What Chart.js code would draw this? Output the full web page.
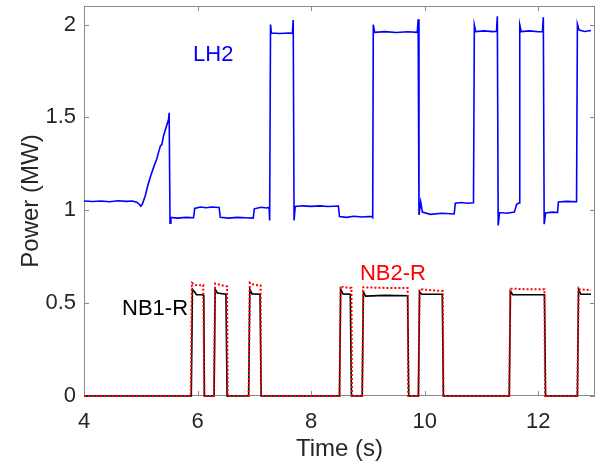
<!DOCTYPE html>
<html>
<head>
<meta charset="utf-8">
<script src="https://cdn.jsdelivr.net/npm/chart.js@4/dist/chart.umd.min.js"></script>
<style>
  html, body { margin: 0; padding: 0; background: #fff; }
</style>
</head>
<body>
<canvas id="powerChart" width="599" height="466"></canvas>
<script>
// LH2 power trace (MW)
const lh2Time = [4.00, 4.15, 4.30, 4.45, 4.60, 4.75, 4.85, 4.93, 4.98, 5.00, 5.03, 5.08, 5.13, 5.18, 5.23, 5.28, 5.32, 5.35, 5.37, 5.40, 5.45, 5.49, 5.50,
  5.515, 5.53, 5.65, 5.80, 5.93, 5.95, 6.05, 6.15, 6.25, 6.38, 6.40, 6.55, 6.70, 6.85, 6.98, 7.00, 7.12, 7.22, 7.26, 7.27,
  7.285, 7.30, 7.45, 7.60, 7.67, 7.685, 7.70, 7.72, 7.85, 8.00, 8.15, 8.30, 8.48, 8.50, 8.62, 8.75, 8.90, 9.07, 9.085,
  9.095, 9.12, 9.30, 9.50, 9.70, 9.87, 9.885, 9.90, 9.93, 9.96, 10.10, 10.30, 10.52, 10.54, 10.65, 10.75, 10.86,
  10.875, 10.90, 11.05, 11.20, 11.265, 11.28, 11.295, 11.32, 11.45, 11.58, 11.62, 11.665,
  11.675, 11.70, 11.85, 12.00, 12.075, 12.09, 12.105, 12.13, 12.25, 12.34, 12.355, 12.50, 12.675,
  12.69, 12.72, 12.82, 12.93];
const lh2Power = [1.050, 1.047, 1.050, 1.046, 1.051, 1.048, 1.050, 1.044, 1.030, 1.022, 1.035, 1.080, 1.140, 1.190, 1.235, 1.275, 1.320, 1.350, 1.352, 1.400, 1.450, 1.490, 1.525,
  0.930, 0.962, 0.958, 0.962, 0.960, 1.010, 1.018, 1.014, 1.018, 1.015, 0.962, 0.958, 0.962, 0.960, 0.958, 1.008, 1.016, 1.012, 1.016, 0.945,
  2.000, 1.955, 1.952, 1.955, 1.953, 2.025, 0.945, 1.020, 1.024, 1.021, 1.024, 1.020, 1.023, 0.966, 0.962, 0.968, 0.964, 0.967, 0.962,
  2.000, 1.958, 1.962, 1.957, 1.961, 1.958, 2.028, 0.975, 1.045, 0.990, 0.978, 0.984, 0.980, 1.038, 1.042, 1.038, 1.040,
  1.998, 1.962, 1.966, 1.962, 1.964, 2.045, 0.918, 0.988, 0.984, 0.990, 1.032, 1.040,
  1.998, 1.962, 1.966, 1.961, 1.963, 2.040, 0.925, 0.985, 0.990, 0.988, 1.045, 1.048, 1.046,
  2.003, 1.970, 1.963, 1.968];

// NB1-R power trace (MW)
const nb1Time = [4.00, 5.89, 5.91, 5.95, 5.98, 6.09, 6.11, 6.12, 6.29, 6.31, 6.35, 6.50, 6.52, 6.90, 6.92, 6.96, 7.10, 7.12,
  8.50, 8.52, 8.56, 8.69, 8.71, 8.90, 8.92, 8.96, 9.30, 9.70, 9.72, 9.89, 9.91, 9.95, 10.31, 10.33,
  11.49, 11.51, 11.55, 12.11, 12.13, 12.69, 12.71, 12.75, 12.93];
const nb1Power = [0, 0, 0.575, 0.560, 0.545, 0.545, 0.540, 0, 0, 0.575, 0.555, 0.548, 0, 0, 0.575, 0.550, 0.548, 0,
  0, 0.575, 0.550, 0.548, 0, 0, 0.560, 0.538, 0.542, 0.540, 0, 0, 0.560, 0.548, 0.548, 0,
  0, 0.565, 0.545, 0.545, 0, 0, 0.575, 0.548, 0.548];

// NB2-R power trace (MW)
const nb2Time = [4.00, 5.88, 5.90, 5.95, 6.00, 6.10, 6.12, 6.29, 6.31, 6.40, 6.52, 6.53, 6.90, 6.92, 7.00, 7.11, 7.12,
  8.50, 8.52, 8.60, 8.71, 8.72, 8.90, 8.92, 9.30, 9.70, 9.71, 9.89, 9.91, 10.10, 10.32, 10.33,
  11.49, 11.51, 11.80, 12.11, 12.12, 12.69, 12.71, 12.93];
const nb2Power = [0, 0, 0.610, 0.600, 0.595, 0.598, 0, 0, 0.605, 0.598, 0.590, 0, 0, 0.610, 0.598, 0.595, 0,
  0, 0.590, 0.585, 0.582, 0, 0, 0.585, 0.582, 0.582, 0, 0, 0.575, 0.570, 0.565, 0,
  0, 0.578, 0.575, 0.575, 0, 0, 0.575, 0.570];

const xTicks = [4, 6, 8, 10, 12];
const yTicks = [0, 0.5, 1, 1.5, 2];
const yTickLabels = ['0', '0.5', '1', '1.5', '2'];

const toPoints = (t, p) => t.map((x, i) => ({ x: x, y: p[i] }));

const AXIS_GRAY = '#8a8a8a';
const TEXT_DARK = '#262626';
const FONT = 'Liberation Sans, Arial, Helvetica, sans-serif';

// box round the plot and inward ticks on all four sides, matlab style
const frame = {
  id: 'frame',
  beforeDatasetsDraw(chart) {
    const { ctx, chartArea: a, scales } = chart;
    ctx.save();
    ctx.strokeStyle = AXIS_GRAY;
    ctx.lineWidth = 1;
    ctx.strokeRect(Math.round(a.left) + 0.5, Math.round(a.top) + 0.5,
      Math.round(a.right - a.left) - 1, Math.round(a.bottom - a.top) - 1);
    ctx.beginPath();
    xTicks.forEach(v => {
      const px = Math.round(scales.x.getPixelForValue(v)) + 0.5;
      ctx.moveTo(px, a.bottom); ctx.lineTo(px, a.bottom - 5);
      ctx.moveTo(px, a.top); ctx.lineTo(px, a.top + 5);
    });
    yTicks.forEach(v => {
      const py = Math.round(scales.y.getPixelForValue(v)) + 0.5;
      ctx.moveTo(a.left, py); ctx.lineTo(a.left + 5, py);
      ctx.moveTo(a.right, py); ctx.lineTo(a.right - 5, py);
    });
    ctx.stroke();
    ctx.restore();
  },
  afterDatasetsDraw(chart) {
    const { ctx, scales } = chart;
    const notes = [
      { text: 'LH2', x: 5.92, y: 1.806, color: '#0000ff' },
      { text: 'NB1-R', x: 4.67, y: 0.435, color: '#000000' },
      { text: 'NB2-R', x: 8.86, y: 0.624, color: '#ff0000' }
    ];
    ctx.save();
    ctx.font = '22px ' + FONT;
    ctx.textAlign = 'left';
    ctx.textBaseline = 'alphabetic';
    notes.forEach(n => {
      ctx.fillStyle = n.color;
      ctx.fillText(n.text, scales.x.getPixelForValue(n.x), scales.y.getPixelForValue(n.y));
    });
    ctx.restore();
  }
};

new Chart(document.getElementById('powerChart'), {
  type: 'line',
  data: {
    datasets: [
      {
        label: 'NB2-R',
        data: toPoints(nb2Time, nb2Power),
        borderColor: '#ff0000',
        borderWidth: 2,
        borderDash: [2, 2],
        pointRadius: 0,
        clip: false
      },
      {
        label: 'NB1-R',
        data: toPoints(nb1Time, nb1Power),
        borderColor: '#000000',
        borderWidth: 1.6,
        pointRadius: 0,
        clip: false
      },
      {
        label: 'LH2',
        data: toPoints(lh2Time, lh2Power),
        borderColor: '#0000ff',
        borderWidth: 1.6,
        pointRadius: 0,
        clip: false
      }
    ]
  },
  options: {
    responsive: false,
    animation: false,
    layout: { padding: { top: 6, right: 4, left: 0, bottom: 0 } },
    plugins: {
      legend: { display: false },
      tooltip: { enabled: false }
    },
    scales: {
      x: {
        type: 'linear',
        min: 4,
        max: 13,
        afterFit: s => { s.height = 70; s.paddingLeft = 0; s.paddingRight = 0; },
        afterBuildTicks: s => { s.ticks = xTicks.map(v => ({ value: v })); },
        grid: { display: false, drawTicks: false },
        border: { display: false },
        ticks: {
          color: TEXT_DARK,
          font: { family: FONT, size: 22 },
          padding: 13,
          maxRotation: 0,
          callback: v => String(v)
        },
        title: {
          display: true,
          text: 'Time (s)',
          color: TEXT_DARK,
          font: { family: FONT, size: 24 },
          padding: { top: 0, bottom: 2 }
        }
      },
      y: {
        type: 'linear',
        min: 0,
        max: 2.1,
        afterFit: s => { s.width = 84; s.paddingTop = 0; s.paddingBottom = 0; },
        afterBuildTicks: s => { s.ticks = yTicks.map(v => ({ value: v })); },
        grid: { display: false, drawTicks: false },
        border: { display: false },
        ticks: {
          color: TEXT_DARK,
          font: { family: FONT, size: 22 },
          padding: 8,
          callback: (v, i) => yTickLabels[i]
        },
        title: {
          display: true,
          text: 'Power (MW)',
          color: TEXT_DARK,
          font: { family: FONT, size: 24 },
          padding: { top: 17, bottom: 0 }
        }
      }
    }
  },
  plugins: [frame]
});
</script>
</body>
</html>
